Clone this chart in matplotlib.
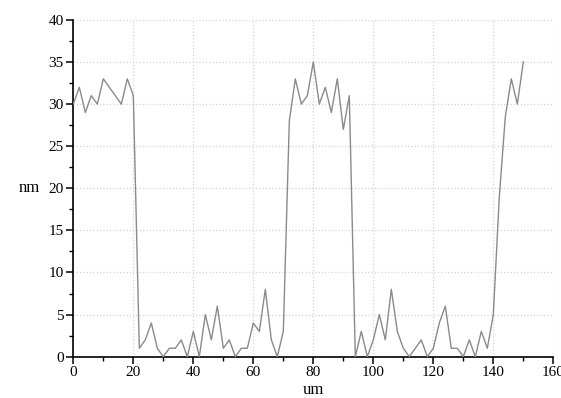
import matplotlib
matplotlib.use("Agg")
import matplotlib.pyplot as plt
from matplotlib.ticker import MultipleLocator

# Profile data (position in um, height in nm)
pos_um = [0, 2, 4, 6, 8, 10, 12, 14, 16, 18, 20, 22, 24, 26, 28, 30, 32, 34, 36, 38,
          40, 42, 44, 46, 48, 50, 52, 54, 56, 58, 60, 62, 64, 66, 68, 70, 72, 74, 76, 78,
          80, 82, 84, 86, 88, 90, 92, 94, 96, 98, 100, 102, 104, 106, 108, 110, 112, 114,
          116, 118, 120, 122, 124, 126, 128, 130, 132, 134, 136, 138, 140, 142, 144, 146,
          148, 150]
height_nm = [30, 32, 29, 31, 30, 33, 32, 31, 30, 33, 31, 1, 2, 4, 1, 0, 1, 1, 2, 0,
             3, 0, 5, 2, 6, 1, 2, 0, 1, 1, 4, 3, 8, 2, 0, 3, 28, 33, 30, 31,
             35, 30, 32, 29, 33, 27, 31, 0, 3, 0, 2, 5, 2, 8, 3, 1, 0, 1,
             2, 0, 1, 4, 6, 1, 1, 0, 2, 0, 3, 1, 5, 19, 28.5, 33,
             30, 35]

serif = ['Liberation Serif', 'DejaVu Serif']

fig = plt.figure(figsize=(5.61, 3.98), dpi=100)
ax = fig.add_axes([0.1307, 0.1038, 0.8556, 0.8462])

ax.plot(pos_um, height_nm, color='#8a8a8a', linewidth=1.0, zorder=3)

ax.set_xlim(0, 160)
ax.set_ylim(0, 40)
ax.xaxis.set_major_locator(MultipleLocator(20))
ax.xaxis.set_minor_locator(MultipleLocator(10))
ax.yaxis.set_major_locator(MultipleLocator(5))
ax.yaxis.set_minor_locator(MultipleLocator(2.5))

# Dotted light grid at major ticks
ax.grid(which='major', color='#d4d4d4', linestyle=':', linewidth=0.9, zorder=1)

ax.spines[['top', 'right']].set_visible(False)
ax.spines[['left', 'bottom']].set_linewidth(1.2)

ax.tick_params(which='major', direction='out', length=5, width=1.1, labelsize=11, pad=2)
ax.tick_params(which='minor', direction='out', length=3, width=1.0)
for lbl in ax.get_xticklabels() + ax.get_yticklabels():
    lbl.set_family(serif)

ax.set_xlabel('um', fontsize=12, family=serif, labelpad=2)
ax.set_ylabel('nm', fontsize=12, family=serif, rotation=0, labelpad=14, va='center')

fig.patch.set_facecolor('white')
fig.savefig('out.png', dpi=100)
